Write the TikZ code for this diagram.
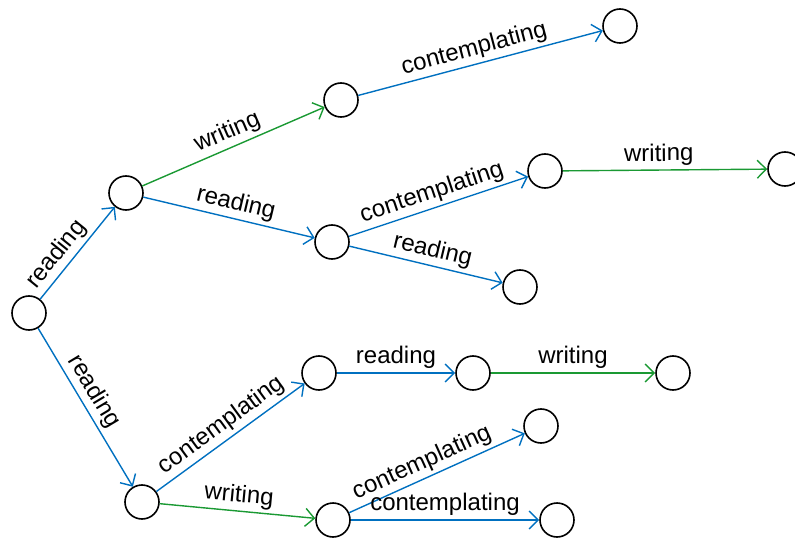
\documentclass[tikz,border=0pt]{standalone}
\usepackage{fontspec}
\setmainfont{Liberation Sans}
\usetikzlibrary{arrows.meta}
\definecolor{actblue}{RGB}{0,112,192}
\definecolor{actgreen}{RGB}{26,153,51}
\begin{document}
\begin{tikzpicture}[x=1pt,y=-1pt,
  state/.style={circle,draw=black,line width=1.6pt,minimum size=34pt,inner sep=0pt},
  trans/.style={line width=1.4pt,-{Straight Barb[length=9pt,width=18pt,line width=1.4pt]}},
  rd/.style={trans,actblue},
  ct/.style={trans,actblue},
  wr/.style={trans,actgreen},
  lbl/.style={sloped,above,text=black,font=\fontsize{24}{26}\selectfont}]
\useasboundingbox (0,0) rectangle (795,540);
\clip (0,0) rectangle (795,540);
% states
\node[state] (r)    at (29,313) {};
\node[state] (a)    at (126,193) {};
\node[state] (b)    at (142,502) {};
\node[state] (a1)   at (341,100) {};
\node[state] (a1a)  at (620,26) {};
\node[state] (a2)   at (332,242) {};
\node[state] (a2a)  at (545,171) {};
\node[state] (a2a1) at (785,169) {};
\node[state] (a2b)  at (520,287) {};
\node[state] (b1)   at (319,373) {};
\node[state] (b1a)  at (473,373) {};
\node[state] (b1a1) at (673,373) {};
\node[state] (b2)   at (333,520) {};
\node[state] (b2a)  at (541,426) {};
\node[state] (b2b)  at (557,520) {};
% transitions
\draw[rd] (r) -- node[lbl,pos=0.38] {reading} (a);
\draw[rd] (r) -- node[lbl,pos=0.45] {reading} (b);
\draw[wr] (a) -- node[lbl] {writing} (a1);
\draw[rd] (a) -- node[lbl,pos=0.52] {reading} (a2);
\draw[ct] (a1) -- node[lbl,pos=0.49] {contemplating} (a1a);
\draw[ct] (a2) -- node[lbl,pos=0.49] {contemplating} (a2a);
\draw[wr] (a2a) -- node[lbl,pos=0.47] {writing} (a2a1);
\draw[rd] (a2) -- node[lbl,pos=0.52] {reading} (a2b);
\draw[ct] (b) -- node[lbl] {contemplating} (b1);
\draw[rd] (b1) -- node[lbl] {reading} (b1a);
\draw[wr] (b1a) -- node[lbl] {writing} (b1a1);
\draw[wr] (b) -- node[lbl] {writing} (b2);
\draw[ct] (b2) -- node[lbl,pos=0.45] {contemplating} (b2a);
\draw[ct] (b2) -- node[lbl] {contemplating} (b2b);
\end{tikzpicture}
\end{document}
